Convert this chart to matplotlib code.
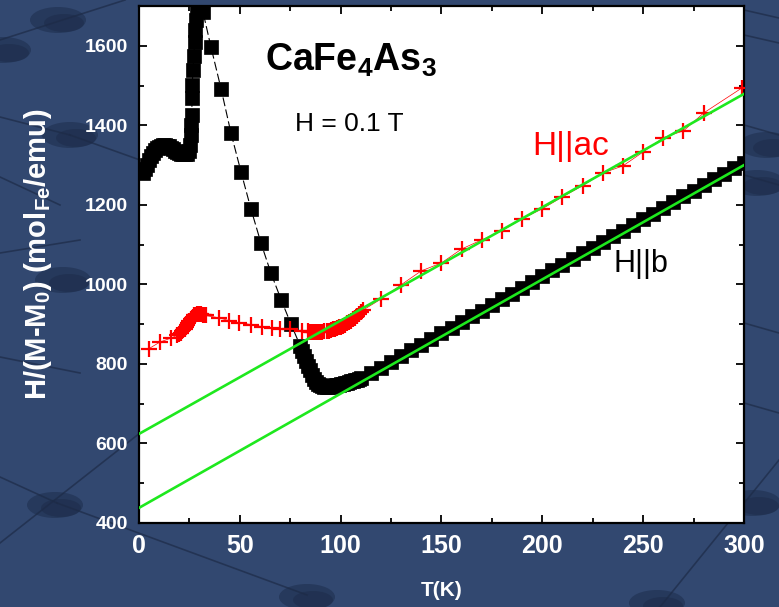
import matplotlib
matplotlib.use("Agg")
import matplotlib.pyplot as plt
from matplotlib.patches import Ellipse
import numpy as np

plt.rcParams['font.family'] = ['Liberation Sans', 'DejaVu Sans']
plt.rcParams['mathtext.fontset'] = 'custom'
plt.rcParams['mathtext.rm'] = 'Liberation Sans:bold'
plt.rcParams['mathtext.default'] = 'rm'

# H || b  (black squares)
T_b = [2, 3, 4, 5, 6, 7, 8, 9, 10, 11, 12, 13, 14, 15, 16, 17, 18, 19, 20, 21,
       22, 23, 24, 24.8, 25.4, 25.8, 26.0, 26.2, 26.3, 26.4, 26.8, 27.2, 27.6,
       28.0, 28.4, 28.8, 29.2, 31.7, 35.7, 40.7, 45.6, 50.6, 55.5, 60.5, 65.4,
       70.6, 75.4,
       80, 81, 82, 83, 84, 85, 86, 87, 88, 89, 90, 91, 92, 93, 94, 95, 96, 97,
       98, 99, 100, 101, 102, 103, 104, 105, 106, 107, 108, 109,
       110, 115, 120, 125, 130, 135, 140, 145, 150, 155, 160, 165, 170, 175,
       180, 185, 190, 195, 200, 205, 210, 215, 220, 225, 230, 235, 240, 245,
       250, 255, 260, 265, 270, 275, 280, 285, 290, 295, 300]
chi_b = [1280, 1290, 1301, 1312, 1322, 1330, 1337, 1342, 1346, 1349, 1350, 1350,
         1349, 1347, 1344, 1340, 1336, 1333, 1330, 1328, 1327, 1327, 1328, 1335,
         1350, 1375, 1400, 1426, 1469, 1502, 1540, 1575, 1610, 1640, 1665, 1690,
         1715, 1686, 1597, 1492, 1381, 1283, 1190, 1104, 1029, 960, 900,
         845, 832, 820, 808, 796, 784, 773, 763, 755, 749, 746, 744, 743, 743,
         743, 744, 745, 746, 747, 748, 749, 750, 752, 753, 754, 756, 757, 759,
         760, 762,
         764, 776, 790, 805, 819, 834, 848, 863, 877, 891, 906, 920, 934, 949,
         963, 977, 992, 1006, 1020, 1035, 1049, 1063, 1078, 1092, 1106, 1121,
         1135, 1149, 1164, 1178, 1192, 1207, 1221, 1235, 1250, 1264, 1278, 1293,
         1305]

# H || ac  (red crosses)
T_ac = [4.8, 10.4, 15.9, 19, 20, 20.7, 21.4, 22, 22.6, 23.2, 23.8, 24.4, 25,
        25.6, 26.2, 26.8, 27.4, 28, 28.6, 29.2, 29.8, 30.4, 31, 31.6, 32.2, 33,
        39.7, 44.6, 49.6, 55.5, 61, 66, 70, 74.9, 81, 84,
        85, 86, 87, 88, 89, 90, 91, 92, 93, 94, 95, 96, 97, 98, 99, 100, 101,
        102, 103, 104, 105, 106, 107, 108, 109, 110, 111,
        120, 130, 140, 150, 160, 170, 180, 190, 200, 210, 220, 230, 240, 250,
        260, 270, 280, 299]
chi_ac = [838, 855, 865, 872, 876, 879, 882, 885, 889, 893, 897, 902, 907, 912,
          916, 919, 922, 924, 925, 926, 926, 925, 925, 924, 923, 922,
          916, 909, 904, 899, 894, 891, 889, 887, 884, 882,
          881, 881, 880, 880, 880, 880, 881, 882, 883, 884, 885, 887, 888, 890,
          892, 894, 896, 899, 902, 905, 908, 912, 916, 920, 925, 930, 935,
          963, 999, 1034, 1054, 1089, 1112, 1135, 1165, 1190, 1220, 1248, 1280,
          1298, 1333, 1369, 1386, 1431, 1494]

# Curie-Weiss fits: intercept, slope
fit_b = (438, 2.873)
fit_ac = (624, 2.85)
T_fit = np.array([0, 300])

fig = plt.figure(figsize=(7.79, 6.07), dpi=100)
fig.patch.set_facecolor('#324870')

# slide backdrop: dark mesh lines and dimples
bg = fig.add_axes([0, 0, 1, 1], zorder=0)
bg.set_xlim(0, 779)
bg.set_ylim(607, 0)
bg.axis('off')
mesh = [((0, 40), (125, 0)), ((0, 117), (70, 135)), ((70, 135), (140, 160)),
        ((0, 177), (60, 205)), ((0, 253), (80, 240)), ((0, 357), (80, 373)),
        ((0, 477), (57, 503)), ((57, 503), (307, 595)), ((0, 543), (140, 433)),
        ((744, 10), (779, 18)), ((744, 35), (779, 43)), ((744, 125), (779, 135)),
        ((744, 175), (779, 185)), ((744, 323), (779, 333)),
        ((744, 403), (779, 413)), ((779, 460), (660, 607))]
for (x0, y0), (x1, y1) in mesh:
    bg.plot([x0, x1], [y0, y1], color='#1d2b47', lw=1.2, alpha=0.7)
dimples = [(58, 20), (3, 50), (70, 135), (63, 280), (55, 505), (307, 597),
           (753, 503), (657, 603), (767, 145), (757, 183)]
for cx, cy in dimples:
    bg.add_patch(Ellipse((cx, cy), 56, 26, facecolor='#26395c',
                         edgecolor='none'))
    bg.add_patch(Ellipse((cx + 6, cy + 3), 40, 18, facecolor='#1f2f4e',
                         edgecolor='none', alpha=0.7))

ax = fig.add_axes([0.1784, 0.1384, 0.7766, 0.8517], zorder=1)
ax.set_facecolor('white')

ax.plot(T_b, chi_b, color='black', lw=0.8, ls=(0, (8, 3)), zorder=2)
ax.plot(T_b, chi_b, ls='none', marker='s', ms=9.5, mfc='black', mec='black',
        mew=0.5, zorder=3)
ax.plot(T_ac, chi_ac, color='red', lw=0.5, zorder=4)
ax.plot(T_ac, chi_ac, ls='none', marker='+', ms=11, mew=1.6, color='red',
        zorder=5)
ax.plot(T_fit, fit_b[0] + fit_b[1] * T_fit, color='#1ee81e', lw=1.9, zorder=6)
ax.plot(T_fit, fit_ac[0] + fit_ac[1] * T_fit, color='#1ee81e', lw=1.9, zorder=6)

ax.set_xlim(0, 300)
ax.set_ylim(400, 1700)
ax.set_xticks(np.arange(0, 301, 50))
ax.set_xticks(np.arange(0, 301, 25), minor=True)
ax.set_yticks(np.arange(400, 1601, 200))
ax.set_yticks(np.arange(400, 1701, 100), minor=True)
ax.tick_params(which='both', direction='in', top=True, right=True,
               colors='black', width=1.3)
ax.tick_params(which='major', length=6)
ax.tick_params(which='minor', length=3.5)
ax.tick_params(axis='x', which='major', pad=8, labelsize=18, labelcolor='white')
ax.tick_params(axis='y', which='major', pad=8, labelsize=14, labelcolor='white')
for lab in ax.get_xticklabels() + ax.get_yticklabels():
    lab.set_fontweight('bold')
for sp in ax.spines.values():
    sp.set_linewidth(1.6)

ax.set_xlabel('T(K)', color='white', fontsize=15, fontweight='bold')
ax.xaxis.set_label_coords(0.5, -0.112)
ax.set_ylabel(r'H/(M-M$_0$) (mol$_{Fe}$/emu)', color='white', fontsize=21,
              fontweight='bold')
ax.yaxis.set_label_coords(-0.14, 0.52)

ax.text(0.208, 0.875, r'CaFe$_4$As$_3$', transform=ax.transAxes, fontsize=27,
        fontweight='bold', color='black')
ax.text(0.258, 0.758, 'H = 0.1 T', transform=ax.transAxes, fontsize=19,
        color='black')
ax.text(0.65, 0.712, 'H||ac', transform=ax.transAxes, fontsize=24, color='red')
ax.text(0.784, 0.485, 'H||b', transform=ax.transAxes, fontsize=22,
        color='black')

fig.savefig('out.png', dpi=100, facecolor=fig.get_facecolor())
